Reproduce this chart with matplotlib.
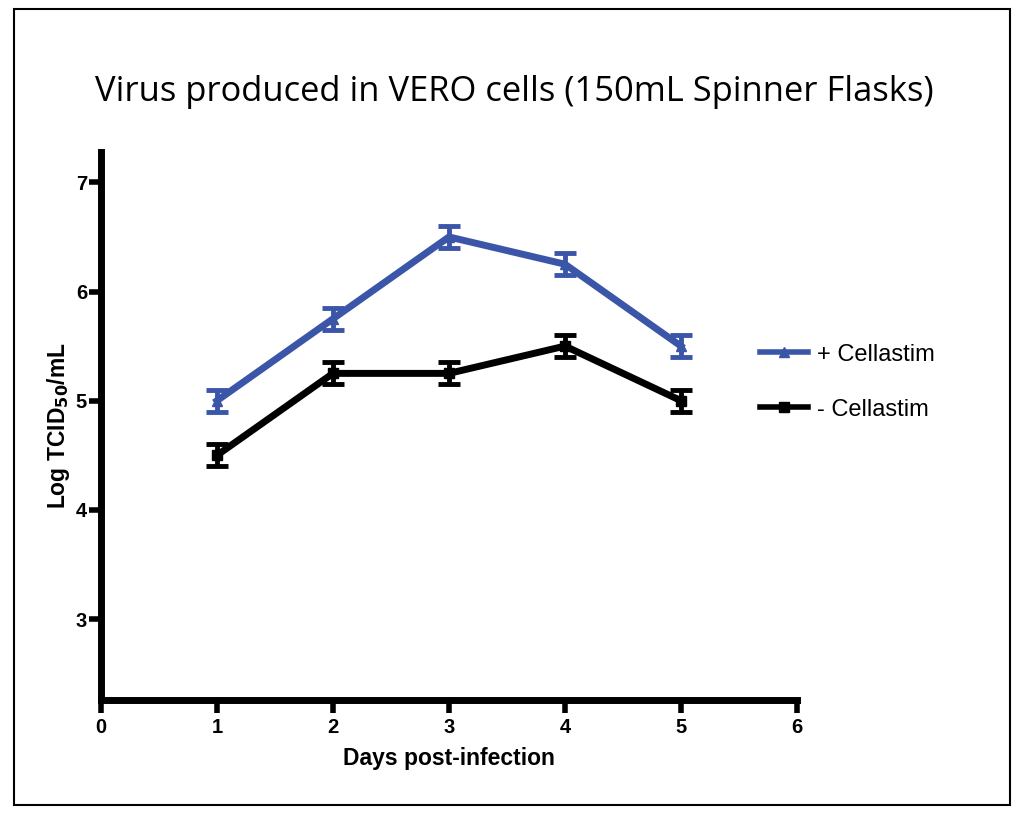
import matplotlib
matplotlib.use("Agg")
import matplotlib.pyplot as plt
from matplotlib.patches import Rectangle
from matplotlib.lines import Line2D

# Data
days = [1, 2, 3, 4, 5]
plus_cellastim = [5.0, 5.75, 6.5, 6.25, 5.5]
plus_err = [0.1, 0.1, 0.1, 0.1, 0.1]
minus_cellastim = [4.5, 5.25, 5.25, 5.5, 5.0]
minus_err = [0.1, 0.1, 0.1, 0.1, 0.1]
x_ticks = [0, 1, 2, 3, 4, 5, 6]
y_ticks = [3, 4, 5, 6, 7]
labels = ['+ Cellastim', '- Cellastim']

blue = "#3b56a8"

plt.rcParams['font.family'] = ['Liberation Sans', 'DejaVu Sans']

fig = plt.figure(figsize=(10.24, 8.16), dpi=100)
ax = fig.add_axes([0.0986, 0.142, 0.6797, 0.672])

# outer frame
fig.patches.append(Rectangle((0.014, 0.013), 0.972, 0.976, transform=fig.transFigure,
                             fill=False, edgecolor="black", linewidth=1.5))

ax.errorbar(days, plus_cellastim, yerr=plus_err, color=blue, linewidth=5,
            marker='^', markersize=7, elinewidth=3.5, capsize=8, capthick=3.5)
ax.errorbar(days, minus_cellastim, yerr=minus_err, color="black", linewidth=5,
            marker='s', markersize=7, elinewidth=3.5, capsize=8, capthick=3.5)

ax.set_xlim(0, 6)
ax.set_ylim(2.257, 7.28)
ax.set_xticks(x_ticks)
ax.set_yticks(y_ticks)

for side in ['top', 'right']:
    ax.spines[side].set_visible(False)
for side in ['left', 'bottom']:
    ax.spines[side].set_linewidth(5)
ax.tick_params(width=4, length=9, labelsize=14.5)
ax.tick_params(axis='x', pad=4)
ax.tick_params(axis='y', pad=1)
for lbl in ax.get_xticklabels() + ax.get_yticklabels():
    lbl.set_fontweight('bold')

ax.set_xlabel('Days post-infection', fontsize=16.5, fontweight='bold', labelpad=7)
ax.set_ylabel('Log TCID$_{\\mathbf{50}}$/mL', fontsize=16.5, fontweight='bold', labelpad=3)

fig.text(0.502, 0.887, 'Virus produced in VERO cells (150mL Spinner Flasks)',
         ha='center', va='center', fontsize=24.8, family=['Open Sans', 'DejaVu Sans'])

handles = [Line2D([], [], color=blue, linewidth=4, marker='^', markersize=7),
           Line2D([], [], color='black', linewidth=4, marker='s', markersize=7)]
ax.legend(handles, labels, loc='center left', bbox_to_anchor=(0.917, 0.58), frameon=False,
          fontsize=17, handlelength=2.0, labelspacing=1.4, handletextpad=0.4)

fig.savefig("out.png", dpi=100)
